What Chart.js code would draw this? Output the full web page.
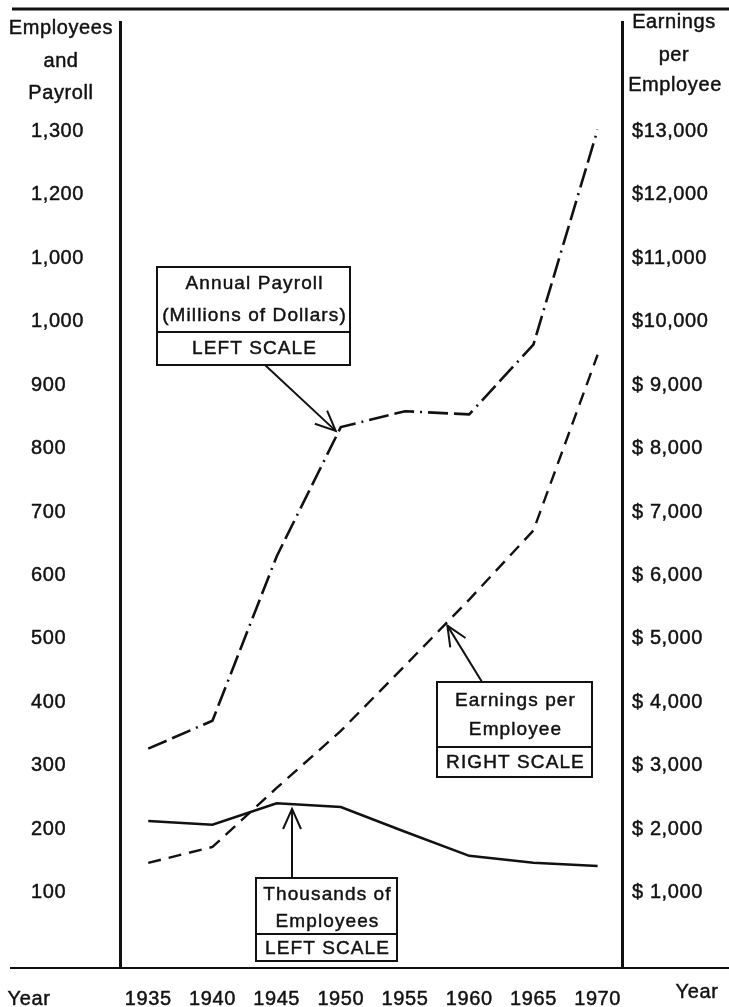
<!DOCTYPE html>
<html>
<head>
<meta charset="utf-8">
<script src="https://cdn.jsdelivr.net/npm/chart.js@4.4.1/dist/chart.umd.min.js"></script>
<style>
  html, body { margin: 0; padding: 0; background: #fff; }
  #wrap { width: 729px; height: 1007px; position: relative; }
</style>
</head>
<body>
<div id="wrap"><canvas id="chart"></canvas></div>
<script>
// values
const years = [1935, 1940, 1945, 1950, 1955, 1960, 1965, 1970];
const payroll = [327, 371, 630, 834, 859, 854, 964, 1303];          // millions of dollars (left)
const earnings = [1470, 1720, 2650, 3550, 4580, 5620, 6710, 9480];  // dollars (right)
const employees = [213, 207, 241, 235, 196, 158, 147, 142];         // thousands (left)

const leftTicks = [100, 200, 300, 400, 500, 600, 700, 800, 900, 1000, 1100, 1200, 1300];
const leftLabels = ['100', '200', '300', '400', '500', '600', '700', '800', '900', '1,000', '1,000', '1,200', '1,300'];
const rightTicks = [1000, 2000, 3000, 4000, 5000, 6000, 7000, 8000, 9000, 10000, 11000, 12000, 13000];
const rightLabels = ['$ 1,000', '$ 2,000', '$ 3,000', '$ 4,000', '$ 5,000', '$ 6,000', '$ 7,000', '$ 8,000', '$ 9,000', '$10,000', '$11,000', '$12,000', '$13,000'];
const yearTicks = [1935, 1940, 1945, 1950, 1955, 1960, 1965, 1970];

const INK = '#111';
const FONT = '"Liberation Sans", Arial, sans-serif';
const tickFont = { family: FONT, size: 20 };

function points(vals) {
    return years.map((y, i) => ({ x: y, y: vals[i] }));
}

// label boxes with their arrows (arrow tip given in data units)
const notes = [
    {
        box: [157, 267, 350, 365], divider: 332,
        lines: [['Annual Payroll', 284], ['(Millions of Dollars)', 316], ['LEFT SCALE', 349]],
        from: [265, 365], to: { x: 1949.6, y: 828, axis: 'y' }
    },
    {
        box: [437, 682, 592, 777], divider: 747,
        lines: [['Earnings per', 701], ['Employee', 730], ['RIGHT SCALE', 763]],
        from: [482, 682], to: { x: 1958.3, y: 5210, axis: 'y2' }
    },
    {
        box: [256, 878, 397, 961], divider: 934,
        lines: [['Thousands of', 895], ['Employees', 922], ['LEFT SCALE', 949]],
        from: [292, 878], to: { x: 1946.2, y: 232, axis: 'y' }
    }
];

function inkText(ctx, t, x, y) {
    ctx.fillText(t, x, y);
    ctx.strokeText(t, x, y);
}

const frame = {
    id: 'frame',
    beforeDraw(chart) {
        chart.ctx.letterSpacing = '0.6px';
    },
    afterDraw(chart) {
        const ctx = chart.ctx;
        ctx.save();
        ctx.strokeStyle = INK;
        ctx.fillStyle = INK;

        // top and bottom rules
        ctx.lineWidth = 3;
        ctx.beginPath();
        ctx.moveTo(12, 9);
        ctx.lineTo(729, 9);
        ctx.stroke();
        ctx.lineWidth = 2;
        ctx.beginPath();
        ctx.moveTo(10, chart.chartArea.bottom);
        ctx.lineTo(729, chart.chartArea.bottom);
        ctx.stroke();

        // axis headings
        ctx.font = '20px ' + FONT;
        ctx.letterSpacing = '0.6px';
        ctx.lineWidth = 0.45;
        ctx.textAlign = 'center';
        ctx.textBaseline = 'middle';
        inkText(ctx, 'Employees', 61, 28);
        inkText(ctx, 'and', 61, 61);
        inkText(ctx, 'Payroll', 61, 93);
        inkText(ctx, 'Earnings', 674, 22);
        inkText(ctx, 'per', 674, 55);
        inkText(ctx, 'Employee', 675, 85);
        inkText(ctx, 'Year', 29, 999);
        inkText(ctx, 'Year', 697, 992);

        // boxes and arrows
        ctx.font = '19px ' + FONT;
        ctx.letterSpacing = '1.1px';
        notes.forEach(n => {
            const [x1, y1, x2, y2] = n.box;
            ctx.lineWidth = 2;
            ctx.fillStyle = '#fff';
            ctx.fillRect(x1, y1, x2 - x1, y2 - y1);
            ctx.strokeRect(x1, y1, x2 - x1, y2 - y1);
            ctx.beginPath();
            ctx.moveTo(x1, n.divider);
            ctx.lineTo(x2, n.divider);
            ctx.stroke();
            ctx.fillStyle = INK;
            ctx.lineWidth = 0.45;
            n.lines.forEach(([t, y]) => inkText(ctx, t, (x1 + x2) / 2 + 1, y));

            const tx = chart.scales.x.getPixelForValue(n.to.x);
            const ty = chart.scales[n.to.axis].getPixelForValue(n.to.y);
            const [fx, fy] = n.from;
            ctx.lineWidth = 2;
            ctx.beginPath();
            ctx.moveTo(fx, fy);
            ctx.lineTo(tx, ty);
            ctx.stroke();
            const ang = Math.atan2(fy - ty, fx - tx);
            const len = 22, spread = 0.42;
            ctx.beginPath();
            ctx.moveTo(tx + len * Math.cos(ang - spread), ty + len * Math.sin(ang - spread));
            ctx.lineTo(tx, ty);
            ctx.lineTo(tx + len * Math.cos(ang + spread), ty + len * Math.sin(ang + spread));
            ctx.stroke();
        });
        ctx.restore();
    }
};

new Chart(document.getElementById('chart').getContext('2d'), {
    type: 'line',
    data: {
        datasets: [
            {
                label: 'Annual Payroll',
                data: points(payroll),
                yAxisID: 'y',
                borderColor: INK,
                borderWidth: 2.6,
                borderDash: [20, 6, 20, 6, 2, 6],
                pointRadius: 0,
                tension: 0,
                fill: false
            },
            {
                label: 'Earnings per Employee',
                data: points(earnings),
                yAxisID: 'y2',
                borderColor: INK,
                borderWidth: 2.4,
                borderDash: [13, 8],
                pointRadius: 0,
                tension: 0,
                fill: false
            },
            {
                label: 'Thousands of Employees',
                data: points(employees),
                yAxisID: 'y',
                borderColor: INK,
                borderWidth: 2.5,
                pointRadius: 0,
                tension: 0,
                fill: false
            }
        ]
    },
    options: {
        responsive: true,
        maintainAspectRatio: false,
        animation: false,
        layout: { padding: { left: 31, right: 0, top: 15, bottom: 0 } },
        plugins: {
            legend: { display: false },
            tooltip: { enabled: false },
            title: { display: false }
        },
        scales: {
            x: {
                type: 'linear',
                min: 1932.8,
                max: 1971.9,
                afterBuildTicks: axis => { axis.ticks = yearTicks.map(v => ({ value: v })); },
                afterFit: axis => { axis.height = 39; },
                grid: { display: false, drawTicks: false },
                border: { display: false },
                ticks: {
                    padding: 19,
                    color: INK,
                    textStrokeColor: INK,
                    textStrokeWidth: 0.45,
                    maxRotation: 0,
                    autoSkip: false,
                    font: tickFont,
                    callback: v => String(v)
                }
            },
            y: {
                position: 'left',
                min: -18.8,
                max: 1472.6,
                afterBuildTicks: axis => { axis.ticks = leftTicks.map(v => ({ value: v })); },
                afterFit: axis => { axis.width = 89; },
                grid: { display: false, drawTicks: false },
                border: { display: true, color: INK, width: 3 },
                ticks: {
                    crossAlign: 'far',
                    color: INK,
                    textStrokeColor: INK,
                    textStrokeWidth: 0.45,
                    autoSkip: false,
                    font: tickFont,
                    callback: (v, i) => leftLabels[i]
                }
            },
            y2: {
                position: 'right',
                min: -188,
                max: 14726,
                afterBuildTicks: axis => { axis.ticks = rightTicks.map(v => ({ value: v })); },
                afterFit: axis => { axis.width = 107; },
                grid: { display: false, drawTicks: false },
                border: { display: true, color: INK, width: 3 },
                ticks: {
                    padding: 10,
                    color: INK,
                    textStrokeColor: INK,
                    textStrokeWidth: 0.45,
                    autoSkip: false,
                    font: tickFont,
                    callback: (v, i) => rightLabels[i]
                }
            }
        }
    },
    plugins: [frame]
});
</script>
</body>
</html>
